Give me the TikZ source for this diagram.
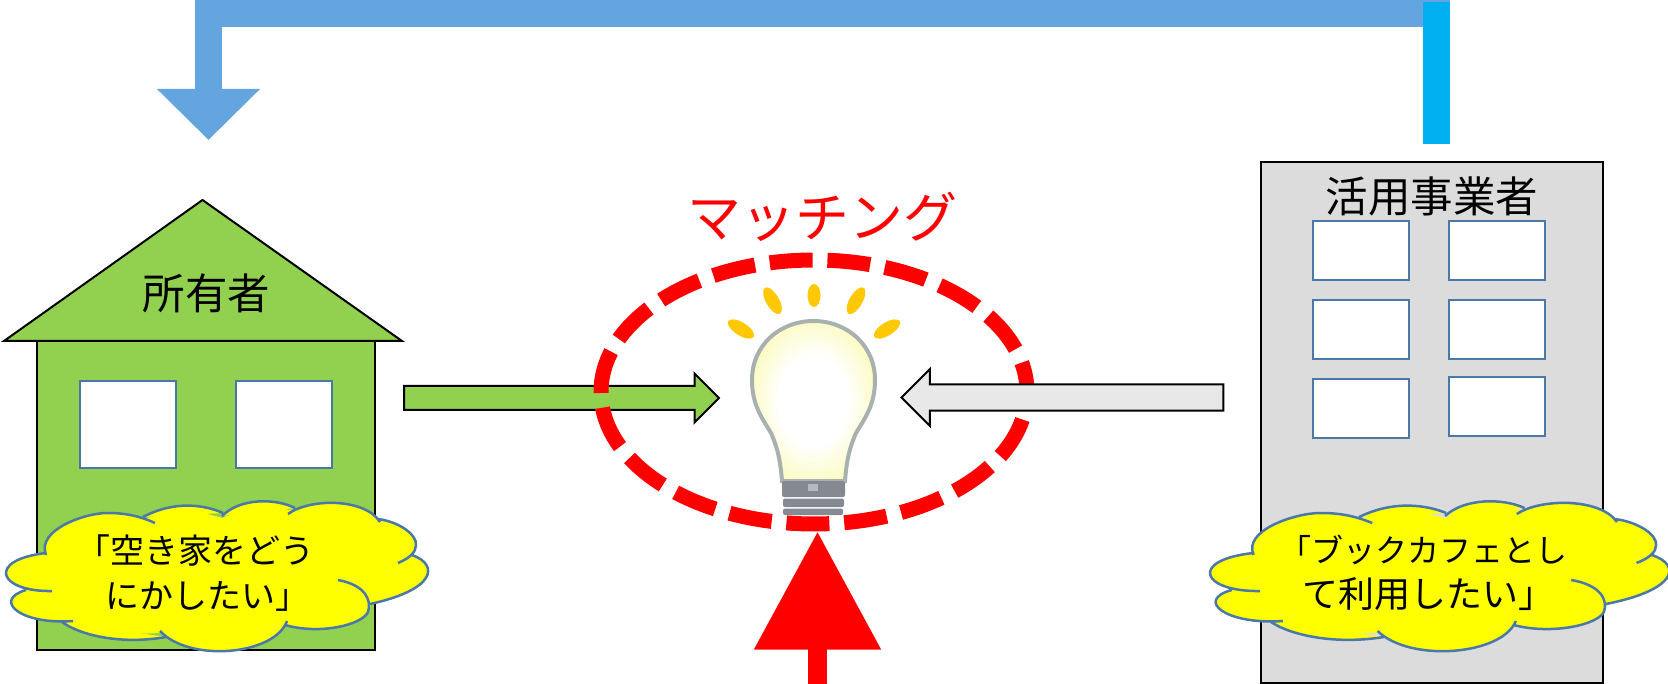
\documentclass[tikz,border=0pt]{standalone}
\usepackage{fontspec}
\setmainfont{Noto Sans CJK JP}
\usepackage{tikz}
\usetikzlibrary{positioning,arrows.meta,shapes.geometric,shapes.arrows}
\usepackage{xcolor}
\definecolor{housegreen}{HTML}{92D050}
\definecolor{towergray}{HTML}{DCDCDC}
\definecolor{arrowgray}{HTML}{E8E8E8}
\definecolor{routeblue}{HTML}{64A5E0}
\definecolor{barcyan}{HTML}{00B0F0}
\definecolor{winblue}{HTML}{4A78A8}
\definecolor{raygold}{HTML}{FFC800}
\definecolor{glowcream}{HTML}{FBFBC0}
\definecolor{bulbedge}{HTML}{A9B1B0}
\definecolor{basegray}{HTML}{858A92}
\definecolor{wishyellow}{HTML}{FFFF00}
\definecolor{matchred}{HTML}{FF0000}
\pgfdeclareradialshading{bulbglow}{\pgfpointorigin}{color(0bp)=(white); color(14bp)=(white); color(27bp)=(glowcream); color(50bp)=(glowcream)}
\tikzset{
  bigfont/.style={font=\fontsize{42.5}{48}\selectfont},
  wishfont/.style={font=\fontsize{34}{45.5}\selectfont,align=center},
  housewin/.style={draw=winblue,fill=white,line width=2.5pt,outer sep=0pt,minimum width=96pt,minimum height=87pt},
  towerwin/.style={draw=winblue,fill=white,line width=2.5pt,outer sep=0pt,minimum width=96pt,minimum height=59pt},
  blockarrow/.style={single arrow,draw=black,line width=2pt,inner sep=11pt,single arrow head extend=14pt,single arrow tip angle=90},
  cloudline/.style={draw=winblue,line width=2.5pt},
}
% one lobe per subpath, each with its own inward tail
\newcommand{\cloudlobes}{
  (46,555) .. controls (36,530) and (85,513) .. (107,513) .. controls (120,513) and (135,514) .. (155,523)
  (143,517) .. controls (175,500) and (205,505) .. (223,513)
  (222,516) .. controls (240,498) and (275,498) .. (295,508)
  (288,514) .. controls (310,498) and (365,498) .. (380,522)
  (378,519) .. controls (400,522) and (417,535) .. (416,545) .. controls (416,552) and (410,558) .. (398,563)
  (412,555) .. controls (440,565) and (435,590) .. (370,604)
  (338,580) .. controls (365,585) and (372,600) .. (368,612) .. controls (362,625) and (320,635) .. (285,625)
  (287,621) .. controls (275,655) and (190,663) .. (160,631)
  (166,637) .. controls (120,645) and (80,635) .. (62,622)
  (73,621) .. controls (20,625) and (-8,600) .. (26,590)
  (52,591) .. controls (-2,592) and (-14,560) .. (46,553)
}
\newcommand{\cloudcore}{
  (46,555) -- (100,516) -- (143,519) -- (186,508) -- (222,518) -- (258,505) -- (290,510) -- (330,506) -- (378,520)
  -- (410,545) -- (412,557) -- (415,578) -- (372,603) -- (368,612) -- (330,626) -- (287,622) -- (228,646) -- (162,633)
  -- (104,635) -- (64,623) -- (28,603) -- (26,590) -- (52,590) -- (20,570) -- cycle
}
\begin{document}
\begin{tikzpicture}[x=1pt,y=-1pt]
  \useasboundingbox (0,0) rectangle (1668,684);
  % OWNER: house with roof and two windows
  \node[draw=black,fill=housegreen,line width=2pt,outer sep=0pt,minimum width=338pt,minimum height=309pt] (body) at (206,495.5) {};
  \draw[black,fill=housegreen,line width=2pt] (202.5,200) -- (4,341) -- (402,341) -- cycle;
  \node[bigfont] (owner) at (206.5,293) {所有者};
  \node[housewin] (hwin1) at (128,424.5) {};
  \node[housewin,right=60pt of hwin1] (hwin2) {};
  % TOWER: operator with six windows, the last one sits a little higher
  \node[draw=black,fill=towergray,line width=2pt,outer sep=0pt,minimum width=342pt,minimum height=520pt] (tower) at (1432,422.5) {};
  \node[bigfont] (operator) at (1432,196) {活用事業者};
  \node[towerwin] (twin1) at (1361,250.5) {};
  \node[towerwin,right=40pt of twin1] (twin2) {};
  \node[towerwin,below=20pt of twin1] (twin3) {};
  \node[towerwin,right=40pt of twin3] (twin4) {};
  \node[towerwin,below=20pt of twin3] (twin5) {};
  \node[towerwin,right=40pt of twin5,yshift=2pt] (twin6) {};
  % ROUTE: elbow from the cyan bar back over the house
  \coordinate (routestart) at (1450,13.5);
  \coordinate (routetip) at (208.5,140);
  \draw[routeblue,line width=27pt,miter limit=10,-{Triangle[length=51pt,width=100pt]}] (routestart) -| (routetip);
  \node[fill=barcyan,inner sep=0pt,outer sep=0pt,minimum width=27pt,minimum height=142pt] (bar) at (1436.5,73) {};
  % BULB: rays, glass, screw base
  \foreach \rayx/\rayy/\rayang/\raylen in {814/295.5/0/11.5, 772.5/300.7/30/15, 856/300.7/-30/15, 741/329/58/15, 887/329/-58/15}
    \fill[raygold,shift={(\rayx,\rayy)},rotate=\rayang] (0,0) ellipse (6.5 and \raylen);
  \draw[draw=bulbedge,line width=4pt,shade,shading=bulbglow] (782,481) .. controls (780,455) and (776,445) .. (771,433)
    .. controls (762,418) and (752,405) .. (752,380) .. controls (752,345) and (780,321) .. (813.5,321)
    .. controls (847,321) and (875,345) .. (875,380) .. controls (875,405) and (865,418) .. (856,433)
    .. controls (851,445) and (847,455) .. (845,481) -- cycle;
  \fill[basegray,rounded corners=2pt] (782,481) rectangle (845,497) (783,498.5) rectangle (844,507) (783,508.5) rectangle (843,515);
  \fill[basegray!60!white] (808,484) rectangle (818,491);
  % MATCHING: green arrow below the dashes, grey arrow above them
  \node[blockarrow,single arrow head extend=12.5pt,fill=housegreen,minimum height=315pt,minimum width=48pt] (ownerarrow) at (555.5,398) {};
  \node[draw=matchred,ellipse,line width=15pt,inner sep=0pt,minimum width=426pt,minimum height=264pt,dash pattern=on 43pt off 14.83pt,dash phase=13pt] (ring) at (814,392) {};
  \node[blockarrow,fill=arrowgray,shape border rotate=180,minimum height=322pt,minimum width=57pt] (towerarrow) at (1069,397.5) {};
  \node[matchred,font=\fontsize{54}{60}\selectfont] (match) at (822,217) {マッチング};
  % RED ARROW up to the ring
  \coordinate (redfoot) at (817.5,684);
  \draw[matchred,line width=19pt,-{Triangle[length=118pt,width=122pt]}] (redfoot) -- (redfoot |- ring.south);
  % WISHES: clouds over house and tower
  \fill[wishyellow] \cloudlobes;
  \fill[wishyellow] \cloudcore;
  \draw[cloudline] \cloudlobes;
  \node[wishfont] (ownerwish) at (207.5,573) {「空き家をどう\kern25pt\\にかしたい」};
  \begin{scope}[shift={(1203.5,0)},xscale=1.088]
    \fill[wishyellow] \cloudlobes;
    \fill[wishyellow] \cloudcore;
    \draw[cloudline] \cloudlobes;
  \end{scope}
  \node[wishfont] (towerwish) at (1423.5,573) {\fontsize{32}{45.5}\selectfont「ブックカフェとし\\\fontsize{36}{45.5}\selectfont\kern10pt て利用したい」};
\end{tikzpicture}
\end{document}
